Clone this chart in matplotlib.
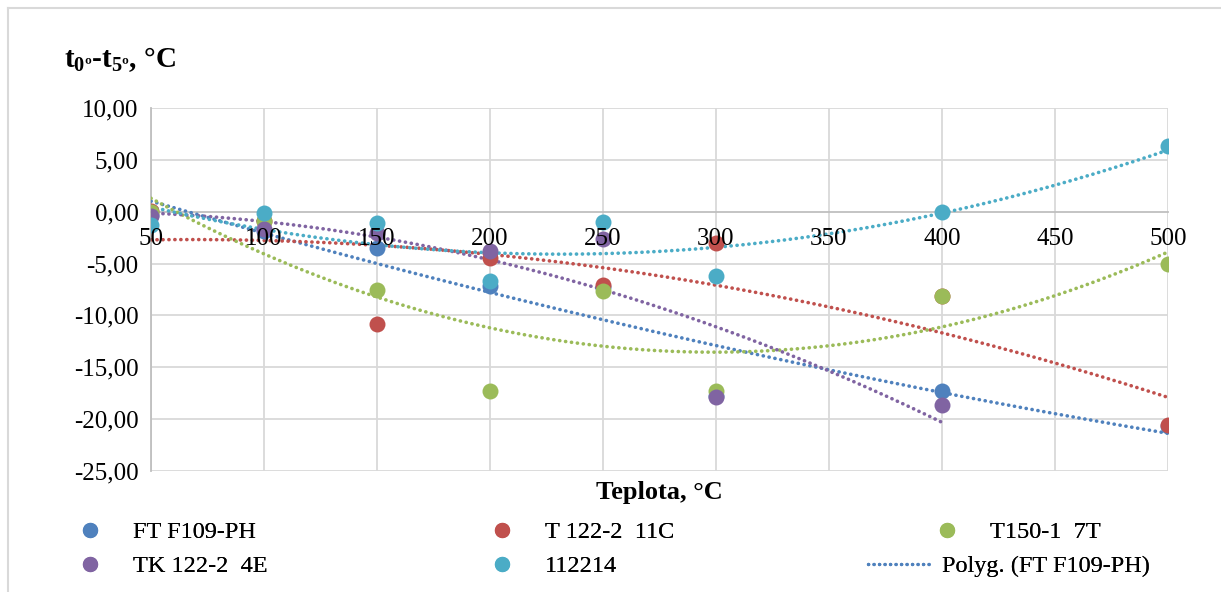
import numpy as np
import matplotlib.pyplot as plt
from matplotlib.lines import Line2D
from matplotlib.ticker import FuncFormatter

plt.rcParams['font.family'] = ['Liberation Serif', 'DejaVu Serif']
plt.rcParams['mathtext.fontset'] = 'custom'
plt.rcParams['mathtext.rm'] = 'Liberation Serif'
plt.rcParams['mathtext.bf'] = 'Liberation Serif:bold'

# data
series_names = ['FT F109-PH', 'T 122-2  11C', 'T150-1  7T', 'TK 122-2  4E', '112214']
trend_label = 'Polyg. (FT F109-PH)'
colors = ['#4F81BD', '#C0504D', '#9BBB59', '#8064A2', '#4BACC6']

temp = [50, 100, 150, 200, 250, 300, 400, 500]
temp_tk = [50, 100, 150, 200, 250, 300, 400]

ft_f109 = [-0.3, -1.9, -3.5, -7.15, -7.3, -17.8, -17.3, -20.7]
t122_11c = [0.1, -0.9, -10.8, -4.5, -7.1, -3.0, -8.1, -20.6]
t150_7t = [0.0, -0.9, -7.5, -17.3, -7.6, -17.3, -8.1, -5.0]
tk122_4e = [-0.4, -1.7, -2.05, -3.8, -2.65, -17.9, -18.6]
s112214 = [-1.25, -0.1, -1.1, -6.7, -1.0, -6.2, 0.0, 6.3]

x_ticks = [50, 100, 150, 200, 250, 300, 350, 400, 450, 500]
y_ticks = [-25, -20, -15, -10, -5, 0, 5, 10]

xs = [temp, temp, temp, temp_tk, temp]
ys = [ft_f109, t122_11c, t150_7t, tk122_4e, s112214]

W, H = 1221, 592
fig = plt.figure(figsize=(W / 100, H / 100), dpi=100)
ax = fig.add_axes([151 / W, 1 - 471 / H, 1017 / W, 363 / H])

# grid drawn by hand so the tick labels can sit above the markers
for xv in x_ticks:
    ax.axvline(xv, color='#d9d9d9', lw=1.3, zorder=0.5)
for yv in y_ticks:
    if yv != 0:
        ax.axhline(yv, color='#d9d9d9', lw=1.3, zorder=0.5)

dots = (0, (0.05, 1.6))
for x, y, c in zip(xs, ys, colors):
    coef = np.polyfit(x, y, 2)
    xx = np.linspace(min(x), max(x), 200)
    ax.plot(xx, np.polyval(coef, xx), color=c, lw=2.6, linestyle=dots,
            dash_capstyle='round', zorder=3)

for x, y, c in zip(xs, ys, colors):
    ax.plot(x, y, 'o', color=c, ms=11.5, mew=0, zorder=4)

ax.set_xlim(50, 500)
ax.set_ylim(-25, 10)
ax.set_xticks(x_ticks)
ax.set_yticks(y_ticks)
ax.yaxis.set_major_formatter(FuncFormatter(lambda v, p: f'{v:.2f}'.replace('.', ',')))
ax.xaxis.set_zorder(6)

for s in ['top', 'right']:
    ax.spines[s].set_visible(False)
ax.spines['left'].set_color('#bfbfbf')
ax.spines['left'].set_linewidth(1.3)
ax.spines['bottom'].set_position(('data', 0))
ax.spines['bottom'].set_color('#bfbfbf')
ax.spines['bottom'].set_linewidth(1.3)
ax.tick_params(axis='x', length=0, pad=12, labelsize=18)
ax.tick_params(axis='y', length=0, pad=9, labelsize=18)

fig.text(64 / W, 1 - 60 / H, r'$\mathbf{t_{0º}}$' + '-' + r'$\mathbf{t_{5º}}$' + ', °C',
         fontsize=21, fontweight='bold', va='center', ha='left')
fig.text(659 / W, 1 - 492 / H, 'Teplota, °C', fontsize=19,
         fontweight='bold', ha='center', va='center')

# legend, one entry at a time to match the column placement
leg_fs = 17.5
hl, tp = 2.55, 0.5
offset = (hl + tp) * leg_fs * 100 / 72


def add_entry(handle, label, x_text, y):
    lg = fig.legend([handle], [label], loc='center left',
                    bbox_to_anchor=((x_text - offset) / W, 1 - y / H),
                    frameon=False, fontsize=leg_fs, handlelength=hl,
                    handletextpad=tp, borderpad=0, borderaxespad=0)
    fig.add_artist(lg)


def marker_handle(c):
    return Line2D([], [], marker='o', ls='none', color=c, ms=11, mew=0)


add_entry(marker_handle(colors[0]), series_names[0], 133, 532)
add_entry(marker_handle(colors[1]), series_names[1], 545, 532)
add_entry(marker_handle(colors[2]), series_names[2], 990, 532)
add_entry(marker_handle(colors[3]), series_names[3], 133, 566)
add_entry(marker_handle(colors[4]), series_names[4], 545, 566)
add_entry(Line2D([], [], color=colors[0], lw=2.4, linestyle=dots, dash_capstyle='round'),
          trend_label, 942, 566)

fig.add_artist(Line2D([8 / W, 8 / W], [0, 1 - 8 / H], color='#d9d9d9', lw=1.5))
fig.add_artist(Line2D([8 / W, 1], [1 - 8 / H, 1 - 8 / H], color='#d9d9d9', lw=1.5))

fig.savefig('out.png', dpi=100)
